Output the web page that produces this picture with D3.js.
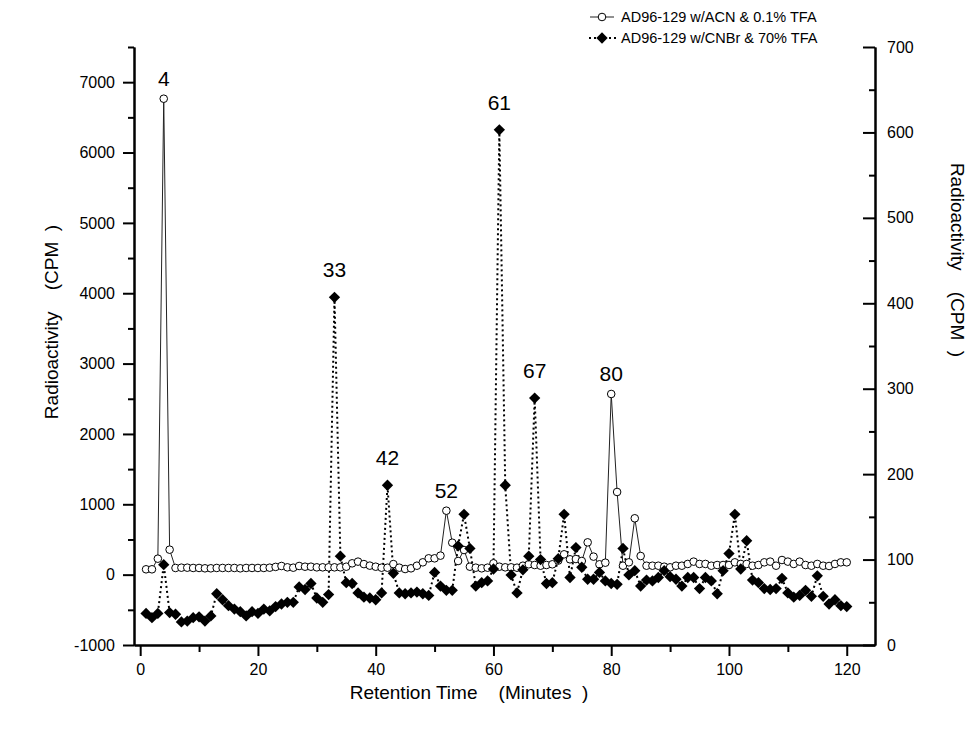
<!DOCTYPE html>
<html>
<head>
<meta charset="utf-8">
<script src="https://cdn.jsdelivr.net/npm/d3@7"></script>
<style>
  body { margin: 0; background: #fff; }
  text { font-family: "Liberation Sans", Arial, sans-serif; white-space: pre; }
</style>
</head>
<body>
<div id="chart"></div>
<script>
var width = 974,
    height = 734;

// retention time (minutes) for both runs
var minutes = d3.range(1, 121);

// AD96-129 w/ACN & 0.1% TFA  (left axis, CPM)
var acnValues = [
  76, 76, 227, 6765, 355, 95, 99, 99, 95, 95,
  90, 90, 95, 95, 95, 95, 90, 95, 95, 95,
  95, 99, 110, 123, 104, 99, 123, 113, 113, 104,
  104, 104, 104, 104, 113, 161, 185, 150, 128, 113,
  99, 99, 150, 99, 80, 90, 127, 175, 232, 232,
  270, 909, 454, 194, 350, 113, 99, 90, 99, 161,
  113, 104, 104, 99, 127, 147, 137, 127, 137, 147,
  200, 289, 218, 222, 194, 459, 256, 147, 170, 2568,
  1175, 127, 175, 801, 265, 127, 127, 127, 113, 104,
  127, 127, 152, 185, 152, 152, 127, 137, 137, 137,
  175, 152, 152, 127, 137, 175, 185, 127, 208, 185,
  152, 185, 137, 127, 152, 127, 123, 152, 175, 175
];

// AD96-129 w/CNBr & 70% TFA  (right axis, CPM)
var cnbrValues = [
  37, 32, 37, 94, 38, 36, 27, 28, 32, 33,
  28, 34, 60, 53, 46, 42, 39, 34, 39, 37,
  42, 40, 45, 48, 50, 50, 68, 65, 72, 55,
  50, 59, 407, 104, 73, 72, 61, 56, 55, 53,
  61, 187, 84, 61, 60, 61, 62, 60, 58, 85,
  69, 64, 64, 116, 153, 113, 69, 73, 75, 89,
  603, 187, 82, 61, 88, 104, 289, 100, 72, 73,
  101, 153, 79, 114, 91, 77, 77, 85, 75, 72,
  71, 113, 82, 87, 69, 76, 75, 79, 87, 80,
  77, 69, 79, 79, 66, 79, 75, 60, 87, 107,
  153, 89, 122, 76, 73, 66, 65, 66, 78, 61,
  56, 58, 64, 57, 81, 57, 48, 53, 46, 45
];

// labelled peaks: minute and which run
var peakMinutes = [4, 33, 42, 52, 61, 67, 80];
var peakSeries  = ["acn", "cnbr", "cnbr", "acn", "cnbr", "cnbr", "acn"];

var xTicks = [0, 20, 40, 60, 80, 100, 120];
var leftTicks = [-1000, 0, 1000, 2000, 3000, 4000, 5000, 6000, 7000];
var rightTicks = [0, 100, 200, 300, 400, 500, 600, 700];

var legendLabels = ["AD96-129 w/ACN & 0.1% TFA", "AD96-129 w/CNBr & 70% TFA"];

var acn = minutes.map(function(m, i) { return {t: m, v: acnValues[i]}; });
var cnbr = minutes.map(function(m, i) { return {t: m, v: cnbrValues[i]}; });

var svg = d3.select("#chart")
  .append("svg")
  .attr("width", width)
  .attr("height", height);

var x = d3.scaleLinear().domain([-1.05, 124.8]).range([134, 875]);
var yL = d3.scaleLinear().domain([-1000, 7500]).range([645, 47]);
var yR = d3.scaleLinear().domain([0, 700]).range([645, 47]);

var plain = function(d) { return String(d); };

function styleAxis(g) {
  g.select(".domain").attr("stroke", "#000").attr("stroke-width", 2);
  g.selectAll(".tick line").attr("stroke", "#000").attr("stroke-width", 2);
  g.selectAll(".tick text").attr("fill", "#000")
    .style("font-family", "'Liberation Sans', Arial, sans-serif")
    .style("font-size", "16px");
}

// minor ticks first (no labels)
svg.append("g")
  .attr("transform", "translate(0,645)")
  .call(d3.axisBottom(x).tickValues(d3.range(10, 120, 20)).tickSize(7).tickFormat("").tickSizeOuter(0))
  .call(styleAxis);
svg.append("g")
  .attr("transform", "translate(134,0)")
  .call(d3.axisLeft(yL).tickValues(d3.range(-500, 7600, 1000)).tickSize(6).tickFormat("").tickSizeOuter(0))
  .call(styleAxis);
svg.append("g")
  .attr("transform", "translate(875,0)")
  .call(d3.axisRight(yR).tickValues(d3.range(50, 700, 100)).tickSize(-6).tickFormat("").tickSizeOuter(0))
  .call(styleAxis);

// major ticks
svg.append("g")
  .attr("transform", "translate(0,645)")
  .call(d3.axisBottom(x).tickValues(xTicks).tickFormat(plain).tickSize(11).tickPadding(8).tickSizeOuter(0))
  .call(styleAxis);
svg.append("g")
  .attr("transform", "translate(134,0)")
  .call(d3.axisLeft(yL).tickValues(leftTicks).tickFormat(plain).tickSize(11).tickPadding(8).tickSizeOuter(0))
  .call(styleAxis);
svg.append("g")
  .attr("transform", "translate(875,0)")
  .call(d3.axisRight(yR).tickValues(rightTicks).tickFormat(plain).tickSize(-12).tickPadding(12).tickSizeOuter(0))
  .call(styleAxis);

// axis titles
svg.append("text")
  .attr("x", 469)
  .attr("y", 699)
  .attr("text-anchor", "middle")
  .attr("font-size", "19px")
  .text("Retention Time    (Minutes  )");

svg.append("text")
  .attr("transform", "translate(58,322) rotate(-90)")
  .attr("text-anchor", "middle")
  .attr("font-size", "19px")
  .text("Radioactivity    (CPM  )");

svg.append("text")
  .attr("transform", "translate(951,260) rotate(90)")
  .attr("text-anchor", "middle")
  .attr("font-size", "19px")
  .text("Radioactivity    (CPM  )");

// lines
var lineL = d3.line().x(function(d) { return x(d.t); }).y(function(d) { return yL(d.v); });
var lineR = d3.line().x(function(d) { return x(d.t); }).y(function(d) { return yR(d.v); });

svg.append("path")
  .datum(acn)
  .attr("d", lineL)
  .attr("fill", "none")
  .attr("stroke", "#222")
  .attr("stroke-width", 1);

svg.append("path")
  .datum(cnbr)
  .attr("d", lineR)
  .attr("fill", "none")
  .attr("stroke", "#000")
  .attr("stroke-width", 2)
  .attr("stroke-dasharray", "2,3");

var diamond = d3.symbol().type(d3.symbolSquare).size(64);

svg.append("g").selectAll("circle")
  .data(acn)
  .enter()
  .append("circle")
  .attr("cx", function(d) { return x(d.t); })
  .attr("cy", function(d) { return yL(d.v); })
  .attr("r", 3.8)
  .attr("fill", "#fff")
  .attr("stroke", "#000")
  .attr("stroke-width", 1);

svg.append("g").selectAll("path")
  .data(cnbr)
  .enter()
  .append("path")
  .attr("d", diamond)
  .attr("transform", function(d) { return "translate(" + x(d.t) + "," + yR(d.v) + ") rotate(45)"; })
  .attr("fill", "#000");

// peak labels
svg.append("g").selectAll("text")
  .data(peakMinutes)
  .enter()
  .append("text")
  .attr("x", function(d) { return x(d); })
  .attr("y", function(d, i) {
    if (peakSeries[i] === "acn") { return yL(acnValues[d - 1]) - 13; }
    else { return yR(cnbrValues[d - 1]) - 20; }
  })
  .attr("text-anchor", "middle")
  .attr("font-size", "21px")
  .text(function(d) { return d; });

// legend
var legend = svg.append("g");
legend.append("line")
  .attr("x1", 590).attr("x2", 614).attr("y1", 17).attr("y2", 17)
  .attr("stroke", "#222").attr("stroke-width", 1);
legend.append("circle")
  .attr("cx", 602).attr("cy", 17).attr("r", 3.8)
  .attr("fill", "#fff").attr("stroke", "#000");
legend.append("line")
  .attr("x1", 589).attr("x2", 616).attr("y1", 38).attr("y2", 38)
  .attr("stroke", "#000").attr("stroke-width", 2).attr("stroke-dasharray", "2,3");
legend.append("path")
  .attr("d", diamond)
  .attr("transform", "translate(602,38) rotate(45)")
  .attr("fill", "#000");
legend.selectAll("text")
  .data(legendLabels)
  .enter()
  .append("text")
  .attr("x", 621)
  .attr("y", function(d, i) { return 22 + i * 21; })
  .attr("font-size", "14.5px")
  .text(function(d) { return d; });
</script>
</body>
</html>
